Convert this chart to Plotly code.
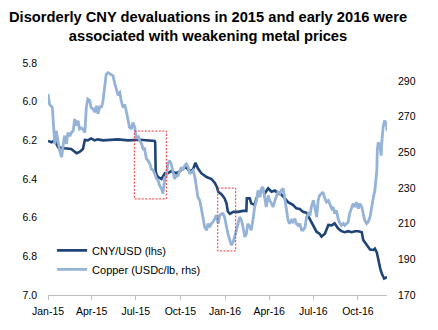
import plotly.graph_objects as go

# CNY per USD (left axis, inverted)
cny_dates = [
    "2015-01-01", "2015-01-08", "2015-01-15", "2015-01-22", "2015-02-04", "2015-02-18",
    "2015-03-01", "2015-03-07", "2015-03-14", "2015-03-18", "2015-03-24", "2015-03-31",
    "2015-04-07", "2015-04-14", "2015-04-24", "2015-05-12", "2015-05-25", "2015-06-15",
    "2015-07-10", "2015-08-09", "2015-08-10", "2015-08-11", "2015-08-13", "2015-08-16",
    "2015-08-23", "2015-08-30", "2015-09-05", "2015-09-12", "2015-09-23", "2015-09-30",
    "2015-10-06", "2015-10-13", "2015-10-20", "2015-10-27", "2015-11-01", "2015-11-06",
    "2015-11-13", "2015-11-24", "2015-12-04", "2015-12-11", "2015-12-15", "2015-12-18",
    "2015-12-25", "2015-12-31", "2016-01-04", "2016-01-07", "2016-01-11", "2016-01-18",
    "2016-01-28", "2016-02-07", "2016-02-14", "2016-02-15", "2016-02-21", "2016-02-24",
    "2016-03-02", "2016-03-06", "2016-03-13", "2016-03-19", "2016-03-23", "2016-03-30",
    "2016-04-06", "2016-04-13", "2016-04-19", "2016-04-26", "2016-05-03", "2016-05-10",
    "2016-05-20", "2016-05-27", "2016-06-03", "2016-06-10", "2016-06-17", "2016-06-21",
    "2016-06-24", "2016-07-01", "2016-07-08", "2016-07-14", "2016-07-18", "2016-07-25",
    "2016-08-01", "2016-08-08", "2016-08-14", "2016-08-21", "2016-08-28", "2016-09-04",
    "2016-09-11", "2016-09-18", "2016-09-25", "2016-10-02", "2016-10-09", "2016-10-12",
    "2016-10-19", "2016-10-26", "2016-11-02", "2016-11-05", "2016-11-09", "2016-11-12",
    "2016-11-16", "2016-11-19", "2016-11-24", "2016-11-28", "2016-11-30",
]
cny_values = [
    6.203, 6.210, 6.200, 6.236, 6.241, 6.245,
    6.267, 6.260, 6.245, 6.198, 6.200, 6.190,
    6.200, 6.195, 6.200, 6.198, 6.195, 6.200,
    6.197, 6.203, 6.210, 6.360, 6.380, 6.390,
    6.400, 6.370, 6.370, 6.360, 6.370, 6.360,
    6.345, 6.340, 6.360, 6.350, 6.316, 6.345,
    6.370, 6.390, 6.400, 6.420, 6.440, 6.466,
    6.480, 6.500, 6.526, 6.569, 6.580, 6.570,
    6.570, 6.565, 6.565, 6.500, 6.500, 6.526,
    6.534, 6.500, 6.466, 6.460, 6.475, 6.448,
    6.466, 6.460, 6.475, 6.480, 6.500, 6.520,
    6.534, 6.552, 6.555, 6.570, 6.575, 6.595,
    6.610, 6.640, 6.674, 6.683, 6.698, 6.683,
    6.638, 6.640, 6.629, 6.655, 6.670, 6.675,
    6.670, 6.675, 6.670, 6.670, 6.675, 6.716,
    6.742, 6.765, 6.767, 6.760, 6.780, 6.825,
    6.862, 6.888, 6.915, 6.910, 6.905,
]

# Copper, US cents per lb (right axis)
cu_dates = [
    "2015-01-01", "2015-01-04", "2015-01-10", "2015-01-13", "2015-01-15", "2015-01-18",
    "2015-01-22", "2015-01-25", "2015-01-29", "2015-02-01", "2015-02-04", "2015-02-08",
    "2015-02-11", "2015-02-15", "2015-02-18", "2015-02-22", "2015-02-25", "2015-03-01",
    "2015-03-04", "2015-03-07", "2015-03-11", "2015-03-14", "2015-03-18", "2015-03-21",
    "2015-03-24", "2015-03-28", "2015-03-31", "2015-04-04", "2015-04-07", "2015-04-11",
    "2015-04-14", "2015-04-18", "2015-04-21", "2015-04-24", "2015-04-28", "2015-05-01",
    "2015-05-05", "2015-05-08", "2015-05-12", "2015-05-15", "2015-05-19", "2015-05-22",
    "2015-05-25", "2015-05-29", "2015-06-01", "2015-06-05", "2015-06-08", "2015-06-12",
    "2015-06-15", "2015-06-18", "2015-06-22", "2015-06-25", "2015-06-29", "2015-07-02",
    "2015-07-06", "2015-07-09", "2015-07-13", "2015-07-16", "2015-07-19", "2015-07-23",
    "2015-07-26", "2015-07-30", "2015-08-02", "2015-08-06", "2015-08-09", "2015-08-13",
    "2015-08-16", "2015-08-19", "2015-08-23", "2015-08-26", "2015-08-30", "2015-09-02",
    "2015-09-05", "2015-09-09", "2015-09-12", "2015-09-16", "2015-09-19", "2015-09-23",
    "2015-09-26", "2015-09-30", "2015-10-03", "2015-10-06", "2015-10-10", "2015-10-13",
    "2015-10-17", "2015-10-20", "2015-10-24", "2015-10-27", "2015-10-31", "2015-11-03",
    "2015-11-06", "2015-11-10", "2015-11-13", "2015-11-17", "2015-11-20", "2015-11-24",
    "2015-11-27", "2015-11-30", "2015-12-04", "2015-12-07", "2015-12-11", "2015-12-14",
    "2015-12-18", "2015-12-21", "2015-12-25", "2015-12-28", "2015-12-31", "2016-01-04",
    "2016-01-07", "2016-01-11", "2016-01-14", "2016-01-18", "2016-01-21", "2016-01-25",
    "2016-01-28", "2016-01-31", "2016-02-04", "2016-02-07", "2016-02-11", "2016-02-14",
    "2016-02-17", "2016-02-21", "2016-02-24", "2016-02-28", "2016-03-02", "2016-03-06",
    "2016-03-09", "2016-03-13", "2016-03-16", "2016-03-19", "2016-03-23", "2016-03-26",
    "2016-03-30", "2016-04-02", "2016-04-06", "2016-04-09", "2016-04-13", "2016-04-16",
    "2016-04-19", "2016-04-23", "2016-04-26", "2016-04-30", "2016-05-03", "2016-05-07",
    "2016-05-10", "2016-05-13", "2016-05-17", "2016-05-20", "2016-05-24", "2016-05-27",
    "2016-05-31", "2016-06-03", "2016-06-07", "2016-06-10", "2016-06-14", "2016-06-17",
    "2016-06-21", "2016-06-24", "2016-06-27", "2016-07-01", "2016-07-04", "2016-07-08",
    "2016-07-11", "2016-07-14", "2016-07-18", "2016-07-21", "2016-07-25", "2016-07-28",
    "2016-08-01", "2016-08-04", "2016-08-08", "2016-08-11", "2016-08-14", "2016-08-18",
    "2016-08-21", "2016-08-25", "2016-08-28", "2016-09-01", "2016-09-04", "2016-09-08",
    "2016-09-11", "2016-09-14", "2016-09-18", "2016-09-21", "2016-09-25", "2016-09-28",
    "2016-10-02", "2016-10-05", "2016-10-09", "2016-10-12", "2016-10-15", "2016-10-19",
    "2016-10-22", "2016-10-26", "2016-10-29", "2016-11-02", "2016-11-05", "2016-11-09",
    "2016-11-10", "2016-11-12", "2016-11-16", "2016-11-18", "2016-11-19", "2016-11-22",
    "2016-11-25", "2016-11-29", "2016-11-30",
]
cu_values = [
    282.6, 277.0, 275.0, 262.0, 254.7, 262.0,
    254.7, 251.0, 247.2, 253.0, 259.3, 254.7,
    261.0, 259.0, 261.0, 262.0, 268.6, 264.9,
    267.7, 263.0, 263.6, 263.0, 261.0, 275.0,
    279.8, 279.0, 275.0, 274.2, 272.4, 276.0,
    271.5, 276.0, 275.0, 277.9, 287.2, 293.7,
    294.6, 294.0, 293.7, 292.8, 288.2, 285.4,
    282.6, 283.5, 278.8, 275.0, 276.9, 272.3,
    268.6, 264.0, 263.0, 266.7, 264.0, 257.5,
    259.3, 256.5, 254.7, 251.9, 252.0, 246.3,
    245.4, 243.5, 240.7, 239.8, 237.9, 235.1,
    234.2, 231.4, 229.6, 226.8, 236.0, 236.5,
    243.5, 245.3, 243.5, 237.9, 235.1, 236.9,
    236.9, 239.8, 241.6, 239.8, 242.6, 243.5,
    241.6, 237.9, 238.8, 239.8, 236.0, 229.6,
    224.9, 223.0, 217.4, 212.8, 208.1, 206.3,
    210.0, 208.1, 210.0, 210.9, 212.8, 214.6,
    210.0, 214.6, 215.6, 215.6, 213.7, 208.1,
    204.4, 200.7, 197.9, 199.8, 202.5, 206.3,
    210.0, 213.7, 211.9, 208.1, 202.5, 204.4,
    210.0, 208.1, 206.3, 212.8, 219.3, 223.0,
    228.6, 224.9, 229.6, 230.5, 223.0, 219.3,
    225.8, 223.0, 221.2, 219.3, 223.0, 224.9,
    227.7, 226.8, 228.6, 229.6, 223.0, 217.4,
    211.9, 210.0, 211.9, 210.9, 212.8, 210.0,
    209.0, 210.0, 206.3, 206.3, 208.0, 213.7,
    215.6, 214.6, 219.3, 223.0, 219.3, 213.7,
    223.0, 225.8, 226.8, 227.7, 224.0, 222.1,
    223.0, 221.2, 218.4, 219.3, 215.6, 217.4,
    212.8, 210.0, 209.0, 210.0, 209.0, 210.0,
    210.9, 215.6, 219.3, 221.2, 219.3, 222.1,
    218.4, 221.2, 219.3, 215.6, 211.9, 210.0,
    210.9, 213.7, 219.3, 224.9, 228.6, 239.8,
    251.0, 255.6, 252.8, 248.1, 254.7, 264.0,
    267.7, 265.8, 262.0,
]

# Episodes of disorderly devaluation: (start, end, cny_top, cny_bottom)
episodes = [
    ("2015-06-28", "2015-09-02", 6.152, 6.503),
    ("2015-12-17", "2016-01-23", 6.447, 6.772),
]

quarter_ticks = ["2015-01-01", "2015-04-01", "2015-07-01", "2015-10-01",
                 "2016-01-01", "2016-04-01", "2016-07-01", "2016-10-01"]
quarter_labels = ["Jan-15", "Apr-15", "Jul-15", "Oct-15",
                  "Jan-16", "Apr-16", "Jul-16", "Oct-16"]

FONT = "Liberation Sans, Arial, sans-serif"
DARK = "#1f4478"
LIGHT = "#95b3d7"

fig = go.Figure()
fig.add_trace(go.Scatter(
    x=cny_dates, y=cny_values, name="CNY/USD (lhs)", mode="lines",
    line=dict(color=DARK, width=2.6), yaxis="y",
))
fig.add_trace(go.Scatter(
    x=cu_dates, y=cu_values, name="Copper (USDc/lb, rhs)", mode="lines",
    line=dict(color=LIGHT, width=2.8), yaxis="y2",
))

for start, end, top, bottom in episodes:
    fig.add_shape(type="rect", xref="x", yref="y", x0=start, x1=end, y0=top, y1=bottom,
                  line=dict(color="#ee3030", width=1, dash="2px,1.5px"),
                  fillcolor="rgba(0,0,0,0)")

fig.update_layout(
    width=438, height=330,
    margin=dict(l=48, r=51, t=63, b=35),
    paper_bgcolor="white", plot_bgcolor="white",
    font=dict(family=FONT, color="#000000"),
    title=dict(
        text="<b>Disorderly CNY devaluations in 2015 and early 2016 were<br>"
             "associated with weakening metal prices</b>",
        x=0.475, xanchor="center", xref="container",
        y=1 - 22 / 330, yanchor="middle", yref="container",
        font=dict(family=FONT, size=14.7, color="#000000"),
    ),
    showlegend=True,
    legend=dict(
        x=0.012, y=0.048, xanchor="left", yanchor="bottom",
        bgcolor="rgba(0,0,0,0)", borderwidth=0,
        font=dict(family=FONT, size=11, color="#000000"),
        tracegroupgap=0,
    ),
    xaxis=dict(
        type="date", range=["2015-01-01", "2016-11-30"],
        tickvals=quarter_ticks, ticktext=quarter_labels,
        showgrid=False, zeroline=False,
        showline=True, linecolor="#bfbfbf", linewidth=1,
        ticks="outside", ticklen=4, tickcolor="#bfbfbf",
        ticklabelstandoff=2,
        tickfont=dict(family=FONT, size=10.5, color="#000000"),
    ),
    yaxis=dict(
        range=[7.0, 5.8], tickvals=[5.8, 6.0, 6.2, 6.4, 6.6, 6.8, 7.0],
        tickformat=".1f", showgrid=False, zeroline=False, showline=False,
        ticks="", ticklabelstandoff=10,
        tickfont=dict(family=FONT, size=10.5, color="#000000"),
    ),
    yaxis2=dict(
        range=[170, 300], tickvals=[170, 190, 210, 230, 250, 270, 290],
        overlaying="y", side="right",
        showgrid=False, zeroline=False, showline=False,
        ticks="", ticklabelstandoff=10,
        tickfont=dict(family=FONT, size=10.5, color="#000000"),
    ),
)

fig.write_html("out.html")
